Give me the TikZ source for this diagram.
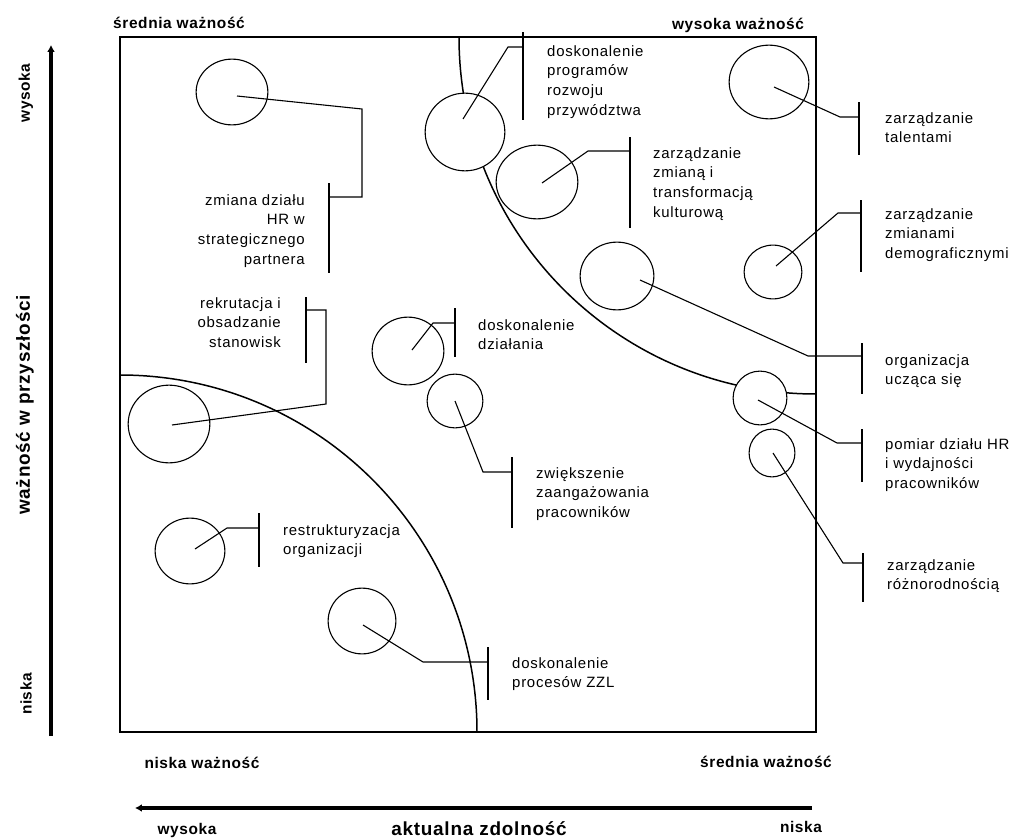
\documentclass[tikz,border=0pt]{standalone}
\usepackage{fontspec}
\setmainfont{Liberation Sans}
\newfontfamily\lblfont[LetterSpace=5]{Liberation Sans}
\newfontfamily\axfont[LetterSpace=4]{Liberation Sans}
\usetikzlibrary{shapes.geometric,arrows.meta,calc}
\begin{document}
\begin{tikzpicture}[x=1bp,y=-1bp,
  frame/.style={line width=2.2},
  zone/.style={line width=1.5},
  bubble/.style={ellipse, draw, line width=1.1, fill=white, inner sep=0pt, outer sep=0pt},
  lead/.style={line width=1.1},
  bar/.style={line width=1.2},
  lbl/.style={font=\lblfont\fontsize{15}{19.8}\selectfont, inner sep=0pt, align=left, anchor=north west},
  lblr/.style={lbl, align=right, anchor=north east},
  axsmall/.style={font=\axfont\fontsize{15.5}{18}\selectfont\bfseries, inner sep=0pt},
  axbig/.style={font=\axfont\fontsize{19}{22}\selectfont\bfseries, inner sep=0pt},
  axis/.style={line width=3.6, -{Latex[length=7,width=8]}}]

\useasboundingbox (0,0) rectangle (1015,839);

% matrix frame and corner coordinates
\coordinate (TL) at (120,37);
\coordinate (TR) at (816,37);
\coordinate (BL) at (120,732);
\coordinate (BR) at (816,732);
\draw[frame] (TL) rectangle (BR);

% zone boundaries: quarter circles around two corners
\draw[zone] (120,375) arc[start angle=-90, end angle=0, radius=357];
\draw[zone] (459,37) arc[start angle=180, end angle=90, radius=357];

% axes
\coordinate (vaxB) at (51,736);
\coordinate (vaxT) at (51,45);
\coordinate (haxR) at (812,808);
\coordinate (haxL) at (135,808);
\draw[axis] (vaxB) -- (vaxT);
\draw[axis] (haxR) -- (haxL);

% axis and corner captions
\node[axsmall, anchor=base] (cTL) at (179,28) {średnia ważność};
\node[axsmall, anchor=base] (cTR) at (738,29) {wysoka ważność};
\node[axsmall, anchor=base] (cBL) at (202,768) {niska ważność};
\node[axsmall, anchor=base] (cBR) at (766,767) {średnia ważność};
\node[axsmall, anchor=base] (xlo) at (187,834) {wysoka};
\node[axbig, anchor=base] (xttl) at (479,835) {aktualna zdolność};
\node[axsmall, anchor=base] (xhi) at (801,832) {niska};
\node[axsmall, rotate=90] (yhi) at (26,93) {wysoka};
\node[axbig, rotate=90] (yttl) at (25,405) {ważność w przyszłości};
\node[axsmall, rotate=90] (ylo) at (26,694) {niska};

% bubbles
\node[bubble, minimum width=72, minimum height=66] (bZm) at (232,92) {};
\node[bubble, minimum width=82, minimum height=78] (bRek) at (169,424) {};
\node[bubble, minimum width=80, minimum height=78] (bProg) at (465,132) {};
\node[bubble, minimum width=82, minimum height=74] (bKult) at (537,182) {};
\node[bubble, minimum width=80, minimum height=74] (bTal) at (769,82) {};
\node[bubble, minimum width=58, minimum height=54] (bDemo) at (773,272) {};
\node[bubble, minimum width=74, minimum height=68] (bOrg) at (617,276) {};
\node[bubble, minimum width=54, minimum height=54] (bPom) at (760,398) {};
\node[bubble, minimum width=46, minimum height=48] (bRoz) at (772,453) {};
\node[bubble, minimum width=72, minimum height=68] (bDzial) at (408,351) {};
\node[bubble, minimum width=56, minimum height=54] (bZaang) at (455,401) {};
\node[bubble, minimum width=70, minimum height=66] (bRestr) at (190,551) {};
\node[bubble, minimum width=68, minimum height=66] (bZzl) at (362,621) {};

% label bars
\draw[bar] (329,183) -- (329,273);
\draw[bar] (306,297) -- (306,363);
\draw[bar] (523,32) -- (523,120);
\draw[bar] (630,137) -- (630,228);
\draw[bar] (859,102) -- (859,155);
\draw[bar] (861,200) -- (861,272);
\draw[bar] (862,343) -- (862,394);
\draw[bar] (862,429) -- (862,482);
\draw[bar] (863,553) -- (863,602);
\draw[bar] (455,308) -- (455,357);
\draw[bar] (512,457) -- (512,528);
\draw[bar] (259,513) -- (259,567);
\draw[bar] (488,647) -- (488,700);

% leader lines from bubbles to bars
\draw[lead] ($(bZm.center)+(5,4)$) -- (362,109) -- (362,197) -- (329,197);
\draw[lead] ($(bRek.center)+(3,1)$) -- (326,404) -- (326,310) -- (306,310);
\draw[lead] ($(bProg.center)+(-2,-13)$) -- (508,47) -- (523,47);
\draw[lead] ($(bKult.center)+(5,1)$) -- (588,151) -- (630,151);
\draw[lead] ($(bTal.center)+(5,5)$) -- (840,117) -- (859,117);
\draw[lead] ($(bDemo.center)+(3,-6)$) -- (838,213) -- (861,213);
\draw[lead] ($(bOrg.center)+(23,4)$) -- (808,356) -- (862,356);
\draw[lead] ($(bPom.center)+(-2,2)$) -- (837,443) -- (862,443);
\draw[lead] ($(bRoz.center)+(1,0)$) -- (843,563) -- (863,563);
\draw[lead] ($(bDzial.center)+(4,-1)$) -- (433,323) -- (455,323);
\draw[lead] (bZaang.center) -- (483,472) -- (512,472);
\draw[lead] ($(bRestr.center)+(5,-2)$) -- (227,528) -- (259,528);
\draw[lead] ($(bZzl.center)+(1,4)$) -- (423,662) -- (488,662);

% labels
\node[lblr] (tZm) at (305,194) {zmiana działu\\HR w\\strategicznego\\partnera};
\node[lblr] (tRek) at (281,297) {rekrutacja i\\obsadzanie\\stanowisk};
\node[lbl] (tProg) at (547,45) {doskonalenie\\programów\\rozwoju\\przywództwa};
\node[lbl] (tKult) at (653,147) {zarządzanie\\zmianą i\\transformacją\\kulturową};
\node[lbl] (tTal) at (885,112) {zarządzanie\\talentami};
\node[lbl] (tDemo) at (885,208) {zarządzanie\\zmianami\\demograficznymi};
\node[lbl] (tOrg) at (885,354) {organizacja\\ucząca się};
\node[lbl] (tPom) at (885,438) {pomiar działu HR\\i wydajności\\pracowników};
\node[lbl] (tRoz) at (887,559) {zarządzanie\\różnorodnością};
\node[lbl] (tDzial) at (478,319) {doskonalenie\\działania};
\node[lbl] (tZaang) at (536,467) {zwiększenie\\zaangażowania\\pracowników};
\node[lbl] (tRestr) at (283,524) {restrukturyzacja\\organizacji};
\node[lbl] (tZzl) at (512,657) {doskonalenie\\procesów ZZL};

\end{tikzpicture}
\end{document}
